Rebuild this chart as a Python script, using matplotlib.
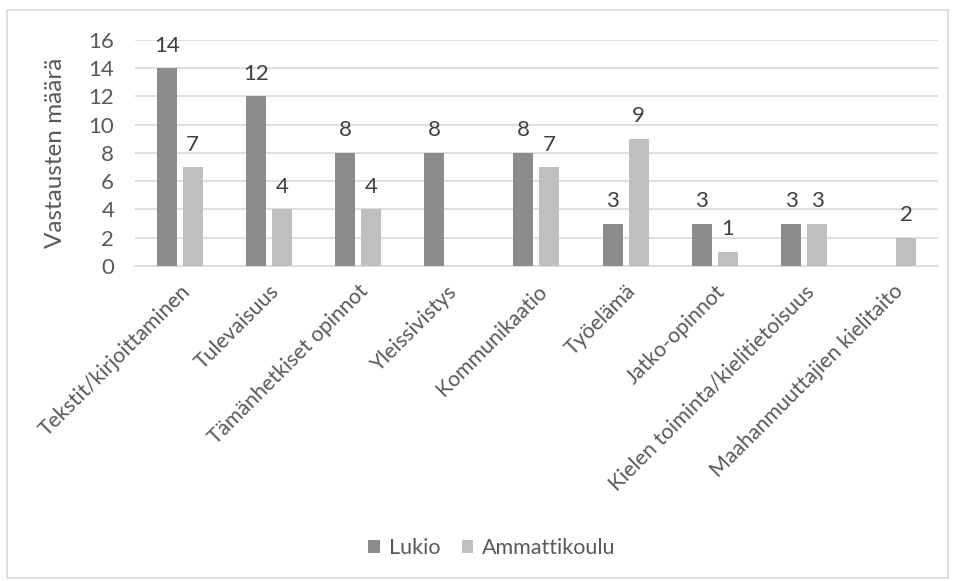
import numpy as np
import matplotlib.pyplot as plt
from matplotlib.patches import Rectangle

categories = ["Tekstit/kirjoittaminen", "Tulevaisuus", "Tämänhetkiset opinnot",
              "Yleissivistys", "Kommunikaatio", "Työelämä", "Jatko-opinnot",
              "Kielen toiminta/kielitietoisuus", "Maahanmuuttajien kielitaito"]
lukio = [14, 12, 8, 8, 8, 3, 3, 3, None]
ammattikoulu = [7, 4, 4, None, 7, 9, 1, 3, 2]
series_names = ["Lukio", "Ammattikoulu"]

plt.rcParams['font.family'] = ['Lato', 'DejaVu Sans']
txt = '#595959'

fig = plt.figure(figsize=(9.55, 5.81), dpi=100)
ax = fig.add_axes([0.1414, 0.5422, 0.8406, 0.389])

x = np.arange(len(categories))
w = 0.224
off = 0.146
for vals, dx, col, name in [(lukio, -off, '#8c8c8c', series_names[0]),
                            (ammattikoulu, off, '#bfbfbf', series_names[1])]:
    v = np.array([np.nan if a is None else a for a in vals], dtype=float)
    ax.bar(x + dx, np.nan_to_num(v), w, color=col, label=name, zorder=3)
    for xi, vi in zip(x + dx, v):
        if not np.isnan(vi):
            ax.annotate(f"{int(vi)}", (xi, vi), xytext=(0, 9),
                        textcoords='offset points', ha='center', va='bottom',
                        fontsize=16, color='#404040')

ax.set_xlim(-0.5, len(categories) - 0.5)
ax.set_ylim(0, 16)
ax.set_yticks(range(0, 17, 2))
ax.yaxis.grid(True, color='#d9d9d9', linewidth=1.2, zorder=0)
ax.set_axisbelow(True)
for s in ['top', 'right', 'left']:
    ax.spines[s].set_visible(False)
ax.spines['bottom'].set_color('#d9d9d9')
ax.spines['bottom'].set_linewidth(1.2)
ax.tick_params(axis='both', length=0, colors=txt, labelsize=16)
ax.tick_params(axis='y', pad=15)
ax.set_xticks(x)
ax.set_xticklabels(categories, rotation=45, ha='right', va='top',
                   rotation_mode='anchor', fontsize=15.3)
ax.tick_params(axis='x', pad=11)
ax.set_ylabel("Vastausten määrä", fontsize=17.5, color=txt, labelpad=16)

fig.legend(loc='center', bbox_to_anchor=(0.515, 1 - 548 / 581), ncol=2,
           frameon=False, fontsize=15.5, labelcolor=txt, handlelength=0.55,
           handleheight=0.55, handletextpad=0.4, columnspacing=1.0)

fig.patches.append(Rectangle((7 / 955, 1 - 578 / 581), 941 / 955, 568 / 581,
                             transform=fig.transFigure, fill=False,
                             edgecolor='#d9d9d9', linewidth=1.2))

fig.savefig('out.png', dpi=100)
